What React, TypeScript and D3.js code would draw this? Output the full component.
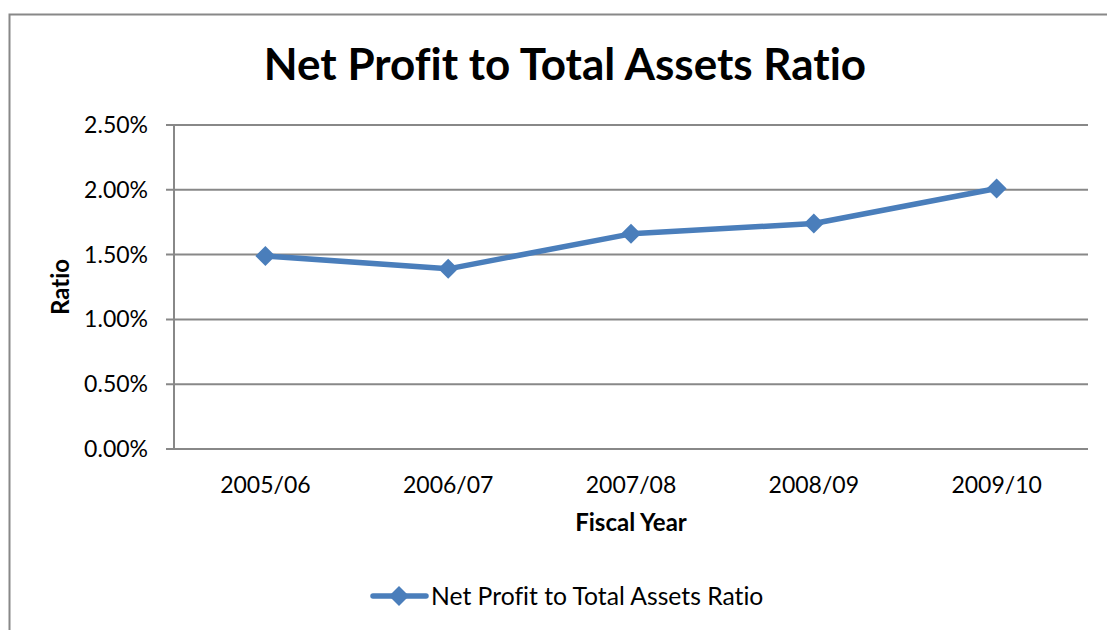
import React from "react";
import * as d3 from "d3";

const categories = ["2005/06", "2006/07", "2007/08", "2008/09", "2009/10"];
const values = [1.49, 1.39, 1.66, 1.74, 2.01];
const yTicks = [0, 0.5, 1.0, 1.5, 2.0, 2.5];
const title = "Net Profit to Total Assets Ratio";
const seriesName = "Net Profit to Total Assets Ratio";
const xTitle = "Fiscal Year";
const yTitle = "Ratio";

export default function App() {
  const W = 1107, H = 630;
  const left = 174, right = 1088, top = 125, bottom = 449;
  const x = d3.scaleBand<string>().domain(categories).range([left, right]);
  const y = d3.scaleLinear().domain([0, 2.5]).range([bottom, top]);
  const color = "#4A7EBB";
  const font = "Lato, 'Open Sans', sans-serif";
  const line = d3.line<number>()
    .x((_, i) => (x(categories[i]) as number) + x.bandwidth() / 2)
    .y((d) => y(d));
  const diamond = (cx: number, cy: number, r: number) =>
    `M${cx},${cy - r}L${cx + r},${cy}L${cx},${cy + r}L${cx - r},${cy}Z`;
  return (
    <svg width={W} height={H} style={{ position: "absolute", left: 0, top: 0, fontFamily: font, fontVariantLigatures: "none" }}>
      <rect x={0} y={0} width={W} height={H} fill="#fff" />
      <rect x={9.5} y={14.5} width={W + 20} height={H + 20} fill="none" stroke="#888" strokeWidth={2} />
      <text x={565} y={80} textAnchor="middle" fontSize={44} fontWeight="bold" fill="#000">{title}</text>
      {yTicks.map((t) => (
        <g key={t}>
          <line x1={166} x2={right} y1={y(t)} y2={y(t)} stroke="#888" strokeWidth={2} />
          <text x={148} y={y(t) + 8} textAnchor="end" fontSize={23} fill="#000">
            {t.toFixed(2) + "%"}
          </text>
        </g>
      ))}
      <line x1={left} x2={left} y1={top} y2={bottom} stroke="#888" strokeWidth={2} />
      {categories.map((c) => (
        <text key={c} x={(x(c) as number) + x.bandwidth() / 2} y={493} textAnchor="middle" fontSize={23} fill="#000">{c}</text>
      ))}
      <text x={631} y={531} textAnchor="middle" fontSize={24} fontWeight="bold" fill="#000">{xTitle}</text>
      <text transform={`translate(69,${(top + bottom) / 2}) rotate(-90)`} textAnchor="middle" fontSize={24} fontWeight="bold" fill="#000">{yTitle}</text>
      <path d={line(values) || ""} fill="none" stroke={color} strokeWidth={5.5} strokeLinejoin="round" />
      {values.map((v, i) => (
        <path key={i} d={diamond((x(categories[i]) as number) + x.bandwidth() / 2, y(v), 10)} fill={color} />
      ))}
      <line x1={373} x2={426} y1={596} y2={596} stroke={color} strokeWidth={5.5} strokeLinecap="round" />
      <path d={diamond(399, 596, 10)} fill={color} />
      <text x={431} y={605} fontSize={24.7} fill="#000">{seriesName}</text>
    </svg>
  );
}
